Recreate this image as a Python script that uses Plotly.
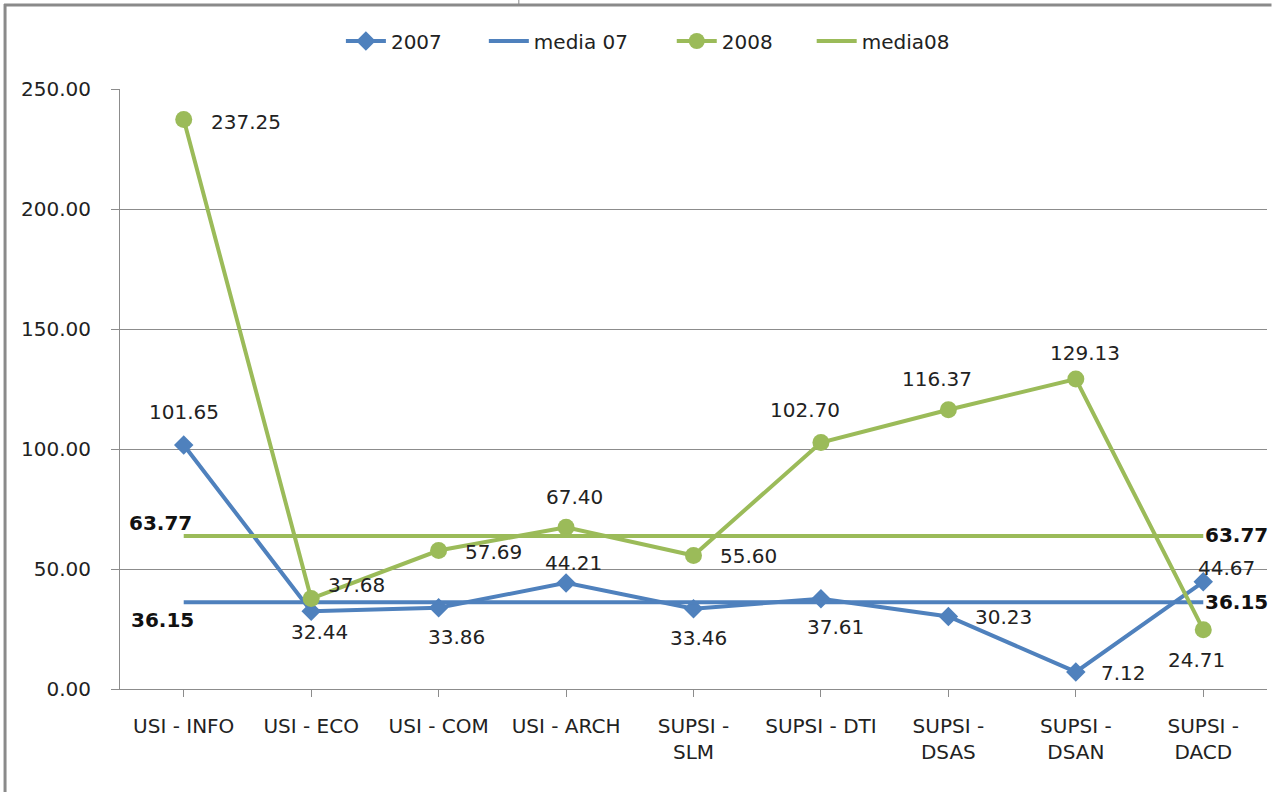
import plotly.graph_objects as go

categories = ["USI - INFO", "USI - ECO", "USI - COM", "USI - ARCH", "SUPSI -<br>SLM",
              "SUPSI - DTI", "SUPSI -<br>DSAS", "SUPSI -<br>DSAN", "SUPSI -<br>DACD"]
v2007 = [101.65, 32.44, 33.86, 44.21, 33.46, 37.61, 30.23, 7.12, 44.67]
v2008 = [237.25, 37.68, 57.69, 67.40, 55.60, 102.70, 116.37, 129.13, 24.71]
media07 = 36.15
media08 = 63.77
y_ticks = [0, 50, 100, 150, 200, 250]

# label offsets (pixels, from the point to the label centre)
off2007 = [(0, 33), (8, -21), (18, -29), (7, 20), (5, -29), (15, -28), (55, -1), (48, -1), (23, 14)]
off2008 = [(62, -2), (45, 14), (55, -1), (8, 30), (55, 0), (-16, 33), (-11, 31), (9, 26), (-7, -30)]
off_m07 = [(-21, -18), (33, 0)]
off_m08 = [(-23, 13), (33, 1)]
legend_px = [341, 484, 672, 812]  # left edge of each legend entry (pixels)

BLUE = "#4F81BD"
GREEN = "#9BBB59"
FONT = "DejaVu Sans"
FS = 20
TXT = "#222222"

n = len(categories)
x = list(range(n))

fig = go.Figure()
fig.add_trace(go.Scatter(
    x=x, y=v2007, name="2007", mode="lines+markers", legend="legend",
    line=dict(color=BLUE, width=4),
    marker=dict(symbol="diamond", size=15, color=BLUE)))
fig.add_trace(go.Scatter(
    x=x, y=[media07] * n, name="media 07", mode="lines", legend="legend2",
    line=dict(color=BLUE, width=4)))
fig.add_trace(go.Scatter(
    x=x, y=v2008, name="2008", mode="lines+markers", legend="legend3",
    line=dict(color=GREEN, width=4),
    marker=dict(symbol="circle", size=17, color=GREEN)))
fig.add_trace(go.Scatter(
    x=x, y=[media08] * n, name="media08", mode="lines", legend="legend4",
    line=dict(color=GREEN, width=4)))

annotations = []
for vals, offs in ((v2007, off2007), (v2008, off2008)):
    for i, v in enumerate(vals):
        dx, dy = offs[i]
        annotations.append(dict(x=i, y=v, xref="x", yref="y", text=f"{v:.2f}",
                                showarrow=False, xshift=dx, yshift=dy,
                                xanchor="center", yanchor="middle",
                                font=dict(family=FONT, size=FS, color=TXT)))
for val, offs in ((media07, off_m07), (media08, off_m08)):
    for k, i in enumerate((0, n - 1)):
        dx, dy = offs[k]
        annotations.append(dict(x=i, y=val, xref="x", yref="y", text=f"<b>{val:.2f}</b>",
                                showarrow=False, xshift=dx, yshift=dy,
                                xanchor="center", yanchor="middle",
                                font=dict(family=FONT, size=FS, color="#111111")))

L, R, T, B = 120, 4.5, 89, 103
W, H = 1272, 792
pw = W - L - R
ph = H - T - B

def px(xp):
    return (xp - L) / pw

def py(yp):
    return (H - B - yp) / ph

shapes = [
    dict(type="line", xref="paper", yref="paper", x0=px(4), x1=px(1272), y0=py(5), y1=py(5),
         line=dict(color="#8a8a8a", width=3)),
    dict(type="line", xref="paper", yref="paper", x0=px(5), x1=px(5), y0=py(4), y1=py(792),
         line=dict(color="#8a8a8a", width=3)),
    dict(type="line", xref="paper", yref="paper", x0=px(519), x1=px(519), y0=py(0), y1=py(5),
         line=dict(color="#8a8a8a", width=1)),
]

def legend_at(xpix):
    return dict(orientation="h", x=px(xpix), xanchor="left", y=py(41), yanchor="middle",
                font=dict(family=FONT, size=FS, color=TXT),
                bgcolor="rgba(0,0,0,0)", itemwidth=40, borderwidth=0)

fig.update_layout(
    width=W, height=H,
    margin=dict(l=L, r=R, t=T, b=B),
    paper_bgcolor="white", plot_bgcolor="white",
    font=dict(family=FONT, size=FS, color=TXT),
    showlegend=True,
    legend=legend_at(legend_px[0]),
    legend2=legend_at(legend_px[1]),
    legend3=legend_at(legend_px[2]),
    legend4=legend_at(legend_px[3]),
    shapes=shapes,
    annotations=annotations,
    xaxis=dict(
        range=[-0.5, n - 0.5], tickmode="array", tickvals=x, ticktext=categories,
        showgrid=False, showline=True, linecolor="#8c8c8c", linewidth=1,
        ticks="outside", tickson="boundaries", ticklen=7, tickcolor="#8c8c8c",
        tickfont=dict(family=FONT, size=FS, color=TXT),
        ticklabelstandoff=12, zeroline=False, fixedrange=True),
    yaxis=dict(
        range=[0, 250], tickmode="array", tickvals=y_ticks,
        tickformat=".2f", showgrid=True, gridcolor="#8c8c8c", gridwidth=1,
        showline=True, linecolor="#8c8c8c", linewidth=1,
        ticks="outside", ticklen=8, tickcolor="#8c8c8c",
        tickfont=dict(family=FONT, size=FS, color=TXT),
        ticklabelstandoff=16, zeroline=False, fixedrange=True),
)

fig.write_html("out.html", config=dict(displayModeBar=False),
               post_script="document.body.style.margin='0px';document.body.style.overflow='hidden';")
